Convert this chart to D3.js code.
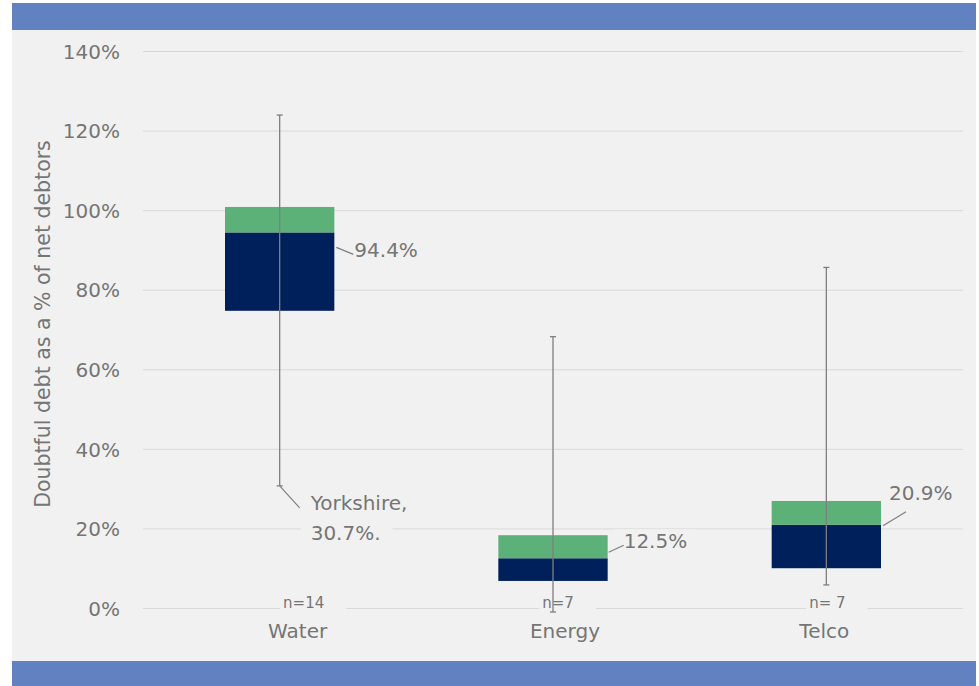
<!DOCTYPE html>
<html>
<head>
<meta charset="utf-8">
<script src="https://cdn.jsdelivr.net/npm/d3@7"></script>
<style>
  body { margin: 0; background: #fff; }
  text { font-family: "DejaVu Sans", sans-serif; fill: #757575; }
</style>
</head>
<body>
<div id="chart-area"></div>
<script>
// data (fractions, 1 = 100%)
var categories = ["Water", "Energy", "Telco"];
var sampleSizes = ["n=14", "n=7", "n= 7"];
var whiskerMin = [0.307, -0.010, 0.058];
var boxLow     = [0.747, 0.068, 0.100];
var median     = [0.944, 0.125, 0.209];
var boxHigh    = [1.008, 0.183, 0.269];
var whiskerMax = [1.239, 0.682, 0.856];
var yTicks = [0, 0.2, 0.4, 0.6, 0.8, 1.0, 1.2, 1.4];

var width = 979, height = 686;

var svg = d3.select("#chart-area")
    .append("svg")
    .attr("width", width)
    .attr("height", height);

// frame: blue bands and grey panel
svg.append("rect").attr("x", 12).attr("y", 3).attr("width", 964).attr("height", 27).attr("fill", "#6281c0");
svg.append("rect").attr("x", 12).attr("y", 30).attr("width", 964).attr("height", 631).attr("fill", "#f1f1f1");
svg.append("rect").attr("x", 12).attr("y", 661).attr("width", 964).attr("height", 25).attr("fill", "#6281c0");

var x = d3.scaleBand()
    .domain(categories)
    .range([143, 963])
    .paddingInner(0.6)
    .paddingOuter(0.3);

var y = d3.scaleLinear()
    .domain([0, 1.4])
    .range([608, 51]);

var cx = function(i){ return x(categories[i]) + x.bandwidth() / 2; };

// gridlines
var yAxisCall = d3.axisLeft(y)
    .tickValues(yTicks)
    .tickSize(-(963 - 143))
    .tickPadding(23)
    .tickFormat(d3.format(".0%"));

var yAxisGroup = svg.append("g")
    .attr("transform", "translate(143,0)")
    .call(yAxisCall);
yAxisGroup.select(".domain").remove();
yAxisGroup.selectAll("line").attr("stroke", "#d9d9d9").attr("stroke-width", 1);
yAxisGroup.selectAll("text")
    .attr("font-size", "20px")
    .attr("fill", "#7f7f7f")
    .attr("dy", "0.36em");

svg.append("text")
    .attr("transform", "translate(50,324) rotate(-90)")
    .attr("text-anchor", "middle")
    .attr("font-size", "20.5px")
    .text("Doubtful debt as a % of net debtors");

// label backgrounds go in first so gridlines are broken behind the text
var bgLayer = svg.append("g");
var markLayer = svg.append("g");
var textLayer = svg.append("g");

function label(txt, tx, ty, size, anchor, padL, padR) {
    var t = textLayer.append("text")
        .attr("x", tx)
        .attr("y", ty)
        .attr("font-size", size)
        .attr("text-anchor", anchor || "start")
        .text(txt);
    var b = t.node().getBBox();
    bgLayer.append("rect")
        .attr("x", b.x - (padL || 0))
        .attr("y", b.y)
        .attr("width", b.width + (padL || 0) + (padR || 0))
        .attr("height", b.height)
        .attr("fill", "#f1f1f1");
    return t;
}

// boxes: navy from low to median, green from median to high
categories.forEach(function(c, i){
    markLayer.append("rect")
        .attr("x", x(c))
        .attr("y", y(median[i]))
        .attr("width", x.bandwidth())
        .attr("height", y(boxLow[i]) - y(median[i]))
        .attr("fill", "#00205c");
    markLayer.append("rect")
        .attr("x", x(c))
        .attr("y", y(boxHigh[i]))
        .attr("width", x.bandwidth())
        .attr("height", y(median[i]) - y(boxHigh[i]))
        .attr("fill", "#5bb178");
});

// whiskers with small caps
categories.forEach(function(c, i){
    var xc = cx(i);
    markLayer.append("line")
        .attr("x1", xc).attr("x2", xc)
        .attr("y1", y(whiskerMax[i])).attr("y2", y(whiskerMin[i]))
        .attr("stroke", "#7f7f7f").attr("stroke-width", 1.3);
    [whiskerMax[i], whiskerMin[i]].forEach(function(v){
        markLayer.append("line")
            .attr("x1", xc - 3).attr("x2", xc + 3)
            .attr("y1", y(v)).attr("y2", y(v))
            .attr("stroke", "#7f7f7f").attr("stroke-width", 1.3);
    });
});

// category names and sample sizes
var catDx = [18, 12, -2];
var nDx = [24, 5, 1];
categories.forEach(function(c, i){
    textLayer.append("text")
        .attr("x", cx(i) + catDx[i])
        .attr("y", 638)
        .attr("text-anchor", "middle")
        .attr("font-size", "20px")
        .text(c);
    label(sampleSizes[i], cx(i) + nDx[i], 608, "15px", "middle", 3, 22);
});

// median call-outs
var pct = d3.format(".1%");
var callouts = [
    {i: 0, lx1: 2, ly1: 15, lx2: 19, ly2: 22, tx: 20, ty: 25},
    {i: 1, lx1: 1, ly1: -6, lx2: 16, ly2: -13, tx: 16, ty: -10},
    {i: 2, lx1: 2, ly1: 1, lx2: 25, ly2: -13, tx: 8, ty: -25}
];
callouts.forEach(function(d){
    var xr = x(categories[d.i]) + x.bandwidth();
    var ym = y(median[d.i]);
    markLayer.append("line")
        .attr("x1", xr + d.lx1).attr("y1", ym + d.ly1)
        .attr("x2", xr + d.lx2).attr("y2", ym + d.ly2)
        .attr("stroke", "#7f7f7f").attr("stroke-width", 1.2);
    label(pct(median[d.i]), xr + d.tx, ym + d.ty, "20px", "start", 10, 10);
});

// lowest water company
var wx = cx(0), wy = y(whiskerMin[0]);
markLayer.append("line")
    .attr("x1", wx).attr("y1", wy)
    .attr("x2", wx + 20).attr("y2", wy + 22)
    .attr("stroke", "#7f7f7f").attr("stroke-width", 1.2);
label("Yorkshire,", wx + 31, wy + 24, "20px", "start", 10, 12);
label(pct(whiskerMin[0]) + ".", wx + 31, wy + 54, "20px", "start", 10, 12);
</script>
</body>
</html>
